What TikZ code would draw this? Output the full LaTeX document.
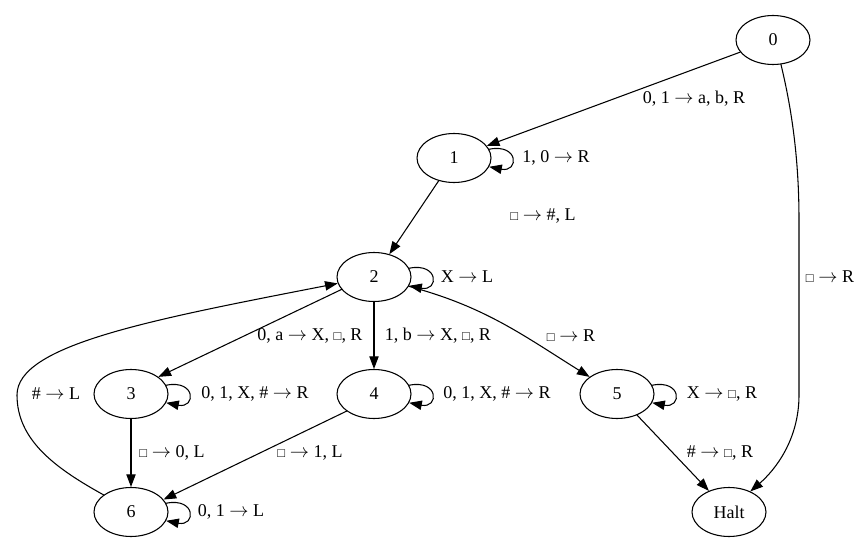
\documentclass[tikz,border=0pt]{standalone}
\usepackage{fontspec}
\setmainfont{Liberation Serif}
\usetikzlibrary{arrows.meta,shapes.geometric}

\newcommand{\blank}{\raisebox{0.05ex}{\scalebox{0.72}{□}}}
\newcommand{\goesto}{$\rightarrow$}

\begin{document}
\begin{tikzpicture}[
			x=0.75pt, y=0.75pt,
			every node/.style={font=\fontsize{13.5}{15}\selectfont},
			state/.style={draw, ellipse, line width=0.8pt, minimum width=55.5pt, minimum height=36.75pt, inner sep=0pt},
			edge/.style={-{Triangle[length=9.5pt,width=7pt]}, line width=0.8pt},
			line cap=round,
			line join=round
			]
			\useasboundingbox (0,0) rectangle (864,-542);
			
			% states
			\node[state] (s0) at (773,-40) {0};
			\node[state] (s1) at (454,-158) {1};
			\node[state] (s2) at (374,-277) {2};
			\node[state] (s3) at (131,-394) {3};
			\node[state] (s4) at (374,-394) {4};
			\node[state] (s5) at (617,-394) {5};
			\node[state] (s6) at (131,-512) {6};
			\node[state] (halt) at (729,-512) {Halt};
			
			% transitions
			\draw[edge] (s0) -- (s1);
			\draw[edge] (s1) -- (s2);
			\draw[edge] (s2.201) -- (s3.32);
			\draw[edge] (s2) -- (s4);
			\draw[edge] (s2) to[out=-15, in=148] (s5);
			\draw[edge] (s3) -- (s6);
			\draw[edge] (s4.212) -- (s6.21);
			\draw[edge] (s5) -- (halt);
			\draw[edge] (s6.148) .. controls (55,-468) and (17,-440) .. (17,-395)
				.. controls (17,-345) and (150,-320) .. (s2.190);
			\draw[edge] (s0.-72) .. controls (792,-110) and (799,-160) .. (799,-220)
				-- (799,-395) .. controls (799,-440) and (775,-470) .. (halt.44);
			
			% loops
			\foreach \s in {s1,s2,s3,s4,s5,s6}
			{
				\draw[edge] (\s.14) .. controls +(30,6) and +(30,-6) .. (\s.-14);
			}
			
			% labels
			\node (l01) at (694,-99) {0, 1 \goesto{} a, b, R};
			\node (l11) at (556,-158) {1, 0 \goesto{} R};
			\node (l12) at (543,-216) {\blank{} \goesto{} \#, L};
			\node (l22) at (467,-277) {X \goesto{} L};
			\node (l23) at (310,-336) {0, a \goesto{} X, \blank, R};
			\node (l24) at (438,-336) {1, b \goesto{} X, \blank, R};
			\node (l25) at (571,-336) {\blank{} \goesto{} R};
			\node (l33) at (255,-394) {0, 1, X, \# \goesto{} R};
			\node (l44) at (497,-394) {0, 1, X, \# \goesto{} R};
			\node (l55) at (722,-394) {X \goesto{} \blank, R};
			\node (l36) at (172,-453) {\blank{} \goesto{} 0, L};
			\node (l46) at (310,-453) {\blank{} \goesto{} 1, L};
			\node (l66) at (231,-512) {0, 1 \goesto{} L};
			\node (l62) at (56,-394) {\# \goesto{} L};
			\node (l5h) at (720,-453) {\# \goesto{} \blank, R};
			\node (l0h) at (830,-277) {\blank{} \goesto{} R};
		\end{tikzpicture}
\end{document}
